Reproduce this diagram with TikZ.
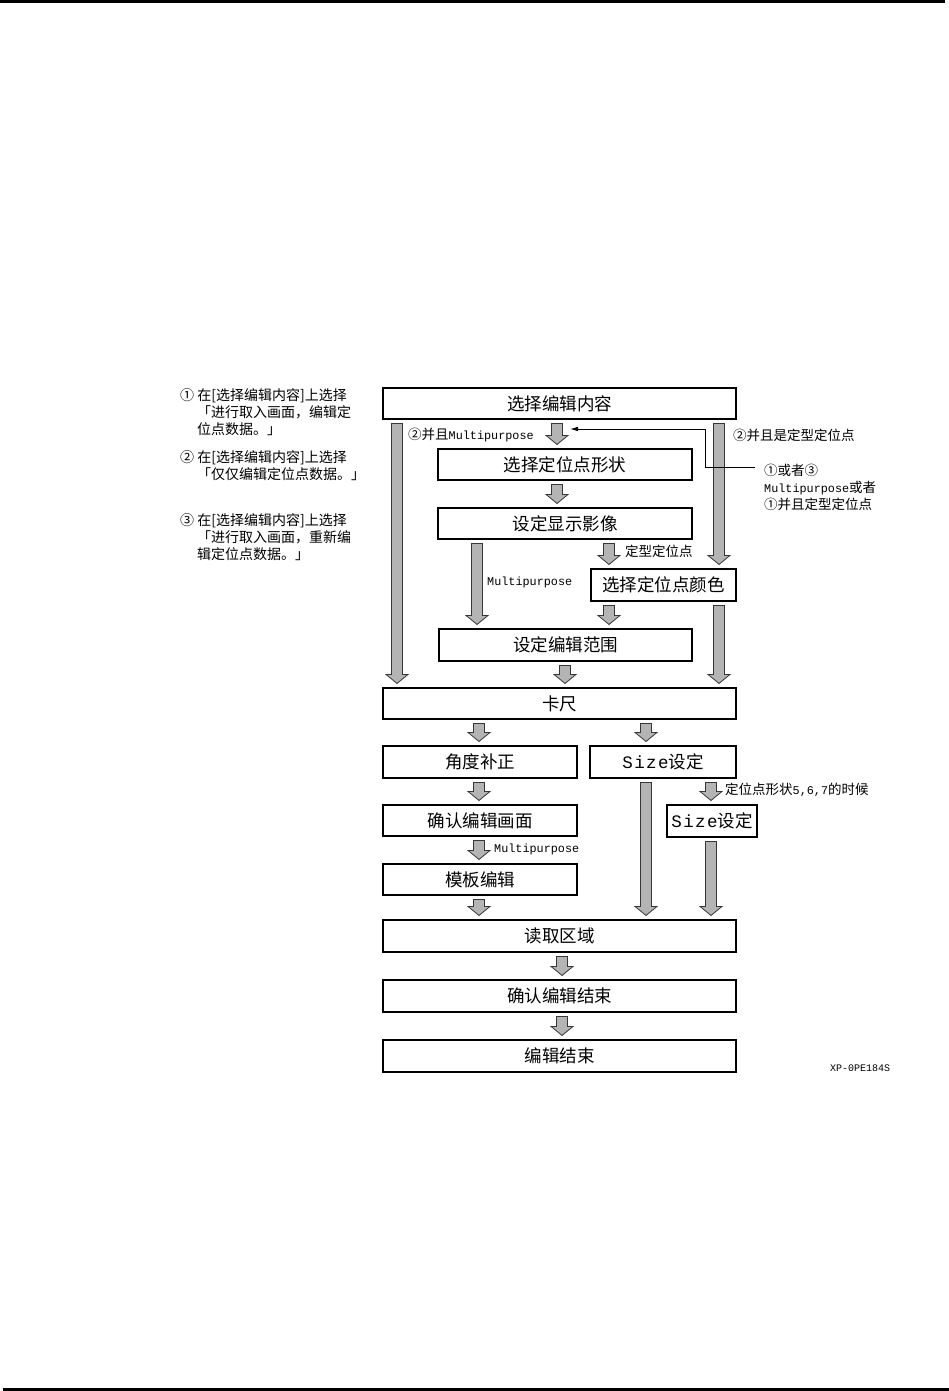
\documentclass[tikz,border=0pt]{standalone}
\usepackage{fontspec}
\setmainfont{Noto Sans CJK SC}
\newfontfamily\mono{Liberation Mono}
\newfontfamily\monosp{Liberation Mono}[LetterSpace=8]
\usetikzlibrary{calc,arrows.meta}
\definecolor{gfill}{RGB}{180,180,180}
\definecolor{gline}{RGB}{55,55,55}
\newcommand\mlat[1]{{\mono\fontsize{11.8}{17}\selectfont #1}}
\newcommand\garr[2]{\filldraw[gar] let \p1=(#1), \p2=(#2) in
 (\x1-5.5pt,\y1-4pt) -- (\x1+5.5pt,\y1-4pt) -- (\x1+5.5pt,\y2+13pt) -- (\x1+11pt,\y2+13pt)
 -- (\x1,\y2+4pt) -- (\x1-11pt,\y2+13pt) -- (\x1-5.5pt,\y2+13pt) -- cycle;}
\begin{document}
\begin{tikzpicture}[x=1pt,y=-1pt,
  box/.style={draw=black,line width=1.1pt,inner sep=0pt,font=\fontsize{17.5}{20}\selectfont},
  lab/.style={inner sep=0pt,anchor=west,align=left,font=\fontsize{13.5}{17}\selectfont},
  note/.style={inner sep=0pt,anchor=west,align=left,font=\fontsize{14}{17}\selectfont},
  gar/.style={fill=gfill,draw=gline,line width=0.8pt,line join=miter},
  conline/.style={draw=black,line width=0.8pt}]
\useasboundingbox (0,0) rectangle (949,1391);
% page rules
\draw[line width=2.6pt] (0,1.3) -- (945,1.3);
\draw[line width=2.6pt] (3,1389.7) -- (949,1389.7);
% notes
\node[note] (n1) at (180,412) {① 在[选择编辑内容]上选择\\\hspace*{17pt}「进行取入画面，编辑定\\\hspace*{17pt}位点数据。」};
\node[note] (n2) at (180,465.5) {② 在[选择编辑内容]上选择\\\hspace*{17pt}「仅仅编辑定位点数据。」};
\node[note] (n3) at (180,537) {③ 在[选择编辑内容]上选择\\\hspace*{17pt}「进行取入画面，重新编\\\hspace*{17pt}辑定位点数据。」};
% boxes
\node[box,minimum width=353,minimum height=31] (b1) at (559.5,403.5) {选择编辑内容};
\node[box,minimum width=254,minimum height=31] (shape) at (565,464.5) {选择定位点形状};
\node[box,minimum width=254,minimum height=31] (disp) at (565,523.5) {设定显示影像};
\node[box,minimum width=145,minimum height=32] (color) at (663.5,585) {选择定位点颜色};
\node[box,minimum width=253,minimum height=32] (range) at (565.5,645) {设定编辑范围};
\node[box,minimum width=353,minimum height=31] (kc) at (559.5,703.5) {卡尺};
\node[box,minimum width=194,minimum height=32] (ang) at (480,762) {角度补正};
\node[box,minimum width=146,minimum height=32] (size1) at (663,762) {{\monosp Size}设定};
\node[box,minimum width=194,minimum height=31] (conf) at (480,820.5) {确认编辑画面};
\node[box,minimum width=90,minimum height=32] (size2) at (712,821) {{\monosp Size}设定};
\node[box,minimum width=194,minimum height=31] (tmpl) at (480,879.5) {模板编辑};
\node[box,minimum width=353,minimum height=32] (read) at (559.5,936) {读取区域};
\node[box,minimum width=353,minimum height=32] (fin1) at (559.5,996) {确认编辑结束};
\node[box,minimum width=353,minimum height=32] (fin2) at (559.5,1056) {编辑结束};
% block arrows
\garr{b1.south -| 557,0}{shape.north}
\garr{shape.south -| 557,0}{disp.north}
\garr{disp.south -| 609,0}{color.north}
\garr{disp.south -| 477,0}{range.north}
\garr{color.south -| 609,0}{range.north}
\garr{range.south -| 565,0}{kc.north}
\garr{b1.south -| 397,0}{kc.north}
\garr{b1.south -| 719,0}{color.north}
\garr{color.south -| 719,0}{kc.north}
\garr{kc.south -| 479,0}{ang.north}
\garr{kc.south -| 646,0}{size1.north}
\garr{ang.south -| 479,0}{conf.north}
\garr{size1.south -| 646,0}{read.north}
\garr{size1.south -| 711,0}{size2.north}
\garr{conf.south -| 479,0}{tmpl.north}
\garr{size2.south -| 711,0}{read.north}
\garr{tmpl.south -| 479,0}{read.north}
\garr{read.south -| 562,0}{fin1.north}
\garr{fin1.south -| 562,0}{fin2.north}
% labels
\node[lab] (l1) at (408,435) {②并且\mlat{Multipurpose}};
\node[lab] (l2) at (733,435) {②并且是定型定位点};
\node[lab] (l3) at (764,487) {①或者③\\\mlat{Multipurpose}或者\\①并且定型定位点};
\node[lab] (l4) at (625,551) {定型定位点};
\node[lab] (l5) at (487,582) {\mlat{Multipurpose}};
\node[lab] (l6) at (725,790) {定位点形状\mlat{5,6,7}的时候};
\node[lab] (l7) at (494,849) {\mlat{Multipurpose}};
\node[lab,font=\mono\fontsize{10}{12}\selectfont] (xp) at (830,1068) {XP-0PE184S};
% thin connector
\coordinate (cstart) at (755,467);
\coordinate (ctip) at (570,429);
\draw[conline,-{Latex[length=8pt,width=4.5pt]}] (cstart) -- (cstart -| 705,0) |- (ctip);
\end{tikzpicture}
\end{document}
